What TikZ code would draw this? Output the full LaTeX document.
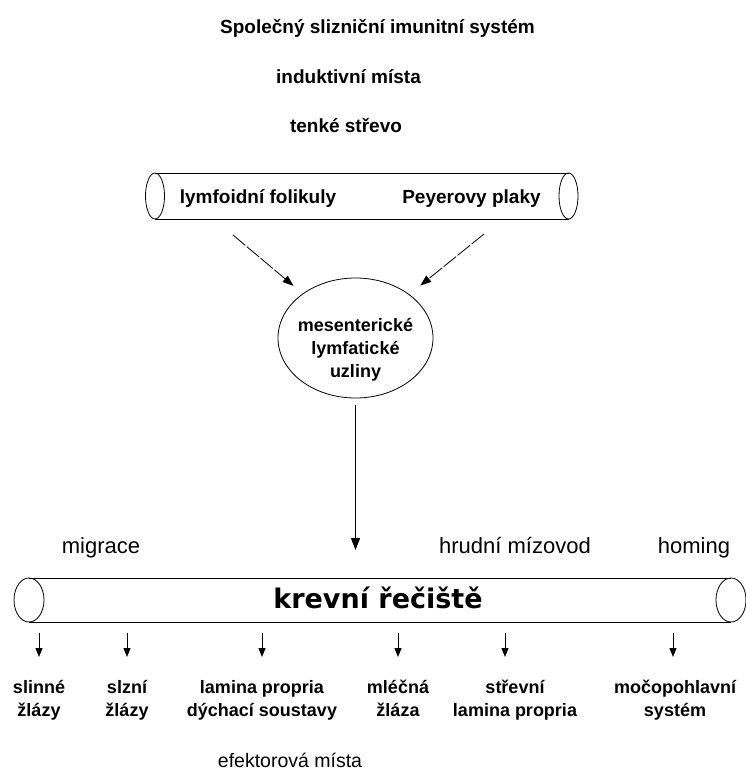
\documentclass[tikz,border=0pt]{standalone}
\usepackage{fontspec}
\setmainfont{Liberation Sans}
\newfontfamily\krevfont{DejaVu Sans}
\usepackage{tikz}
\usetikzlibrary{shapes.geometric,arrows.meta,positioning}
\tikzset{
  titletxt/.style={font=\fontsize{19}{23}\selectfont\bfseries,anchor=base},
  lbltxt/.style={font=\fontsize{18}{23}\selectfont\bfseries,align=center,inner sep=0pt},
  sidetxt/.style={font=\fontsize{22}{26}\selectfont,anchor=base},
  bloodtxt/.style={font=\krevfont\bfseries\fontsize{27}{32}\selectfont,anchor=base},
  uzelell/.style={draw,ellipse,line width=0.8pt,minimum width=155pt,minimum height=120pt},
  dasharr/.style={-{Triangle[length=11pt,width=8pt]},line width=0.8pt,dash pattern=on 16pt off 2pt},
  myarr/.style={-{Triangle[length=12pt,width=9pt]},line width=1.3pt},
  smarr/.style={-{Triangle[length=9pt,width=7pt]},line width=1pt}
}
% tube: left x, right x, centre y, x radius, y radius
\newcommand{\trubice}[5]{%
  \draw[line width=0.8pt] (#1,#3) ellipse [x radius=#4,y radius=#5];
  \draw[line width=0.8pt] (#2,#3) ellipse [x radius=#4,y radius=#5];
  \draw[line width=0.8pt] (#1,#3+#5) -- (#2,#3+#5) (#1,#3-#5) -- (#2,#3-#5);}
\begin{document}
\begin{tikzpicture}[x=1pt,y=1pt]
    \useasboundingbox (0,0) rectangle (745,-771);
    % headings
    \node[titletxt] (nadpis) at (377.5,-33) {Společný slizniční imunitní systém};
    \node[titletxt] (indukce) at (348.5,-83) {induktivní místa};
    \node[titletxt] (streva) at (346,-132) {tenké střevo};
    % small intestine
    \trubice{155}{568.5}{-196}{9.5}{23}
    \node[titletxt] (folik) at (258,-203) {lymfoidní folikuly};
    \node[titletxt] (peyer) at (471.5,-203) {Peyerovy plaky};
    \coordinate (folikdol) at (233,-235);
    \coordinate (peyerdol) at (484,-234);
    % lymph nodes
    \node[uzelell] (uzliny) at (355.5,-338) {};
    \node[lbltxt,anchor=north] (uzlinytxt) at (355.5,-318) {mesenterické\\lymfatické\\uzliny};
    \draw[dasharr,shorten >=12pt] (folikdol) -- (uzliny);
    \draw[dasharr,shorten >=14pt] (peyerdol) -- (uzliny);
    \coordinate (krevtop) at (355.5,-550);
    \draw[myarr,shorten <=7pt] (uzliny) -- (krevtop);
    % blood stream
    \node[sidetxt] (migrace) at (101,-553) {migrace};
    \node[sidetxt] (mizovod) at (515,-553) {hrudní mízovod};
    \node[sidetxt] (homing) at (694,-553) {homing};
    \trubice{29}{731}{-600}{15}{22}
    \node[bloodtxt] (krev) at (378,-608) {krevní řečiště};
    % effector sites
    \node[lbltxt,anchor=north] (slinne) at (39,-680) {slinné\\žlázy};
    \node[lbltxt,anchor=north] (slzne) at (127,-680) {slzní\\žlázy};
    \node[lbltxt,anchor=north] (dychaci) at (262,-680) {lamina propria\\dýchací soustavy};
    \node[lbltxt,anchor=north] (mlecna) at (398,-680) {mléčná\\žláza};
    \node[lbltxt,anchor=north] (strevni) at (515,-680) {střevní\\lamina propria};
    \node[lbltxt,anchor=north] (mocopohl) at (675,-680) {močopohlavní\\systém};
    \foreach \n/\dx in {slinne/0,slzne/0,dychaci/0,mlecna/0,strevni/-10,mocopohl/-2}
      \draw[smarr] ([xshift=\dx pt,yshift=47pt]\n.north) -- ([xshift=\dx pt,yshift=23pt]\n.north);
    \node[sidetxt,font=\fontsize{19.5}{23}\selectfont] (efektor) at (290,-767) {efektorová místa};
\end{tikzpicture}
\end{document}
